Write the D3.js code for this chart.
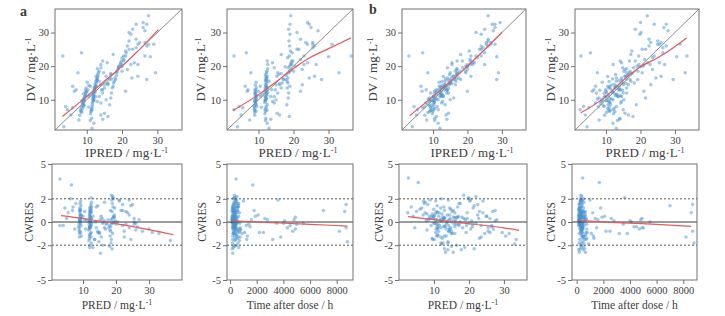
<!DOCTYPE html>
<html>
<head>
<meta charset="utf-8">
<script src="https://cdn.jsdelivr.net/npm/d3@7"></script>
<style>
  body { margin: 0; background: #fff; }
  svg { display: block; }
  text { font-family: "Liberation Serif", "Times New Roman", serif; fill: #3c3c3c; }
</style>
</head>
<body>
<div id="chart"></div>
<script>
// observations (same order in every array)
var time = [
  210,350,420,180,520,300,260,640,150,380, 460,230,330,560,190,410,280,720,170,500,
  240,390,310,600,220,450,160,350,270,680, 200,320,430,260,540,170,390,290,480,210,
  350,620,150,440,230,330,510,190,400,280, 750,170,360,250,470,220,580,300,180,420,
  340,660,240,380,200,530,310,450,160,270, 700,350,210,490,260,230,380,300,520,190,
  410,270,640,350,210,470,330,250,560,180, 430,290,600,220,370,310,490,160,400,260,
  530,340,200,450,280,1200,450,1700,280,350, 420,310,260,190,550,370,240,1600,2200,2800,
  3500,4100,4900,5500,8800,8700,7000,8600,8200,8700, 1000,1400,1800,2100,2600,3200,3600,4000,4500,4800,
  5000,600,900,700,1100,800,450,300,520,380, 240,690,330,760,420,210,200,300,180,250,
  410,330,520,270,640,200,350,460,150,590, 280,390,230,760,180,300,1300,1500,1900,1250,
  3800,4300,4700,2500,4900
];
var dv = [
  9.5,11.0,7.5,12.8,6.8,10.2,8.3,13.5,11.8,9.0, 15.2,6.2,10.8,12.2,7.9,9.8,11.4,8.8,13.0,7.0,
  10.5,14.3,9.3,5.4,12.0,8.5,10.0,11.2,9.7,6.5, 12.5,15.8,9.2,18.5,6.5,13.8,11.0,16.9,4.5,14.6,
  10.2,19.2,12.0,8.0,15.0,17.5,7.0,13.2,11.6,20.5, 9.6,14.2,5.8,16.2,12.8,10.8,18.0,8.6,13.5,15.4,
  11.2,3.8,12.2,17.0,9.8,14.0,21.5,7.5,12.9,10.4, 15.9,6.9,13.6,11.9,16.5,19.5,23.0,15.5,29.5,12.0,
  20.5,16.5,26.0,8.5,21.5,18.0,31.0,14.0,22.5,19.0, 16.0,24.5,10.5,20.0,35.0,17.2,27.5,5.0,21.0,15.0,
  19.8,32.5,13.5,24.0,18.5,7.0,23.0,24.0,2.0,5.5, 7.6,8.0,14.0,13.0,18.0,4.0,12.5,11.0,9.0,17.0,
  14.5,17.8,15.0,16.2,13.0,28.0,25.0,23.0,19.0,21.0, 25.0,20.5,22.0,26.5,27.0,16.5,33.0,26.0,12.5,30.5,
  26.5,22.8,18.0,23.0,26.5,17.0,32.5,31.5,27.0,30.0, 25.5,16.0,20.5,14.5,23.5,19.5,6.0,5.5,3.0,1.5,
  4.2,10.0,21.0,18.0,12.5,16.0,14.8,17.5,13.0,20.0, 21.5,18.5,9.5,7.8,11.5,14.0,8.0,10.0,15.5,11.0,
  12.0,13.5,11.0,14.5,20.5
];
// model a
var ipredA = [
  9.2,9.4,8.8,9.6,8.5,9.0,9.3,9.8,9.1,8.7, 10.1,8.6,9.5,9.9,8.4,9.2,9.7,8.9,10.3,8.2,
  9.4,10.6,9.0,8.0,9.6,9.1,9.3,9.8,8.6,8.3, 12.0,12.8,11.6,13.5,11.2,12.3,11.9,12.6,11.4,12.4,
  12.1,13.0,11.8,11.5,12.7,13.1,11.3,12.2,11.7,14.0, 12.0,12.5,11.1,12.9,12.3,11.8,13.3,11.6,12.1,12.6,
  12.0,11.0,12.4,13.2,11.9,12.7,14.5,11.5,12.2,11.7, 12.9,11.4,12.3,12.0,13.0,19.0,20.5,17.8,22.5,17.0,
  19.5,18.0,21.5,16.5,19.8,18.5,23.0,17.5,20.0,18.8, 18.2,21.0,16.8,19.2,27.5,18.4,22.0,16.0,19.6,17.6,
  19.0,24.0,17.2,21.2,18.6,4.5,3.2,8.5,3.5,5.5, 6.0,4.0,6.0,7.0,7.5,7.8,6.5,10.5,14.0,15.5,
  15.0,16.8,16.0,17.0,14.5,24.0,23.0,21.0,21.5,23.5, 22.0,22.5,20.5,24.5,26.5,22.8,26.0,27.0,21.0,26.5,
  27.5,28.0,29.5,26.5,29.0,24.5,27.0,26.0,25.0,22.0, 24.0,27.0,24.5,16.0,17.5,14.0,15.0,14.0,12.0,11.5,
  14.5,15.5,15.8,14.8,10.0,16.5,15.8,16.8,14.2,20.0, 20.5,20.0,13.0,10.5,10.8,11.0,9.0,11.8,13.5,12.5,
  14.5,15.0,13.5,14.0,20.0
];
var predA = [
  9.0,9.1,8.9,9.2,9.0,9.3,8.8,9.4,9.0,9.1, 9.3,8.9,9.2,9.0,8.7,9.4,9.1,9.2,9.0,8.8,
  9.3,9.1,9.0,8.9,9.2,9.4,9.1,9.5,8.9,9.3, 12.1,12.3,11.8,12.4,12.0,12.2,11.9,12.5,12.1,12.0,
  12.3,12.6,11.7,12.2,12.4,12.0,11.9,12.5,12.3,12.6, 12.0,12.1,11.8,12.4,12.2,12.0,12.3,12.5,11.9,12.1,
  12.4,12.0,12.6,12.2,11.8,12.3,12.5,12.1,11.9,12.2, 12.0,12.4,12.5,12.3,12.1,18.5,18.8,18.2,19.0,18.6,
  19.2,18.4,18.9,18.1,19.5,18.7,18.6,19.0,18.3,19.4, 17.8,19.1,18.5,18.9,19.2,18.0,18.7,18.8,19.3,18.4,
  17.6,19.0,18.2,19.6,18.9,3.0,3.0,6.5,4.0,5.0, 5.5,4.5,6.2,7.0,7.8,7.5,6.8,10.5,14.5,15.2,
  16.0,16.5,16.8,17.2,14.8,22.0,21.5,23.0,22.5,24.0, 21.0,23.0,22.0,24.0,25.5,24.5,24.0,26.0,22.0,27.0,
  25.5,30.0,33.0,36.5,31.0,26.0,24.5,25.0,23.5,21.0, 25.5,28.0,26.5,22.5,16.5,14.5,15.3,16.0,12.5,13.0,
  13.5,15.0,14.0,15.5,10.0,17.0,16.0,15.8,13.8,20.5, 19.8,20.0,14.0,10.8,11.0,10.5,9.5,12.0,13.0,13.5,
  15.5,16.5,14.5,15.0,19.5
];
var cwresA = [
  0.2,0.6,-0.5,1.1,-0.8,0.3,-0.2,1.4,0.9,0.0, 1.8,-1.0,0.5,1.0,-0.4,0.1,0.7,-0.1,1.2,-0.7,
  0.4,1.6,0.1,-1.3,1.0,-0.3,0.3,0.6,0.2,-0.9, 0.1,0.9,-0.7,1.5,-1.4,0.4,-0.2,1.1,-2.0,0.6,
  -0.5,1.3,0.0,-1.0,0.8,1.2,-1.2,0.2,-0.3,1.7, -0.5,0.5,-1.6,0.9,0.1,-0.4,1.3,-0.9,0.3,0.7,
  -0.3,-2.2,-0.1,1.0,-0.6,0.4,2.1,-1.1,0.2,-0.4, 0.8,-1.3,0.3,-0.1,1.0,0.2,0.9,-0.7,2.2,-1.5,
  0.4,-0.4,1.6,-2.1,0.6,-0.1,2.3,-1.0,1.0,0.0, -0.5,1.3,-1.8,0.3,2.0,-0.3,1.9,-2.3,0.5,-0.8,
  0.2,2.1,-1.2,1.2,-0.1,-0.3,3.7,3.2,-0.3,0.3, 0.8,1.2,2.0,1.3,1.6,-0.6,1.0,0.2,-0.9,0.2,
  -0.1,0.1,-0.6,-0.1,-1.7,1.5,1.0,0.9,-0.8,-0.5, 1.8,-0.2,1.0,0.6,0.3,-1.5,1.9,-0.1,-0.3,0.2,
  -0.2,-0.6,-1.0,-1.6,-0.9,-0.7,1.4,1.5,0.8,1.9, 0.0,-0.8,-0.4,-1.3,1.7,1.4,-2.7,-2.0,-1.8,-2.2,
  -1.5,-1.0,1.3,0.5,0.5,-0.2,0.0,0.3,0.0,0.0, 0.1,-0.2,-0.5,-0.6,0.2,0.9,-1.2,-0.4,0.5,-1.5,
  -1.3,-0.5,-0.8,-0.9,0.4
];
// model b
var ipredB = [
  9.0,10.2,9.3,10.9,9.4,8.6,8.9,12.3,12.1,7.8, 11.8,8.5,10.0,12.0,7.6,10.1,12.5,8.4,11.3,10.2,
  9.0,12.6,10.3,7.6,9.3,9.7,9.2,12.2,9.2,9.0, 12.4,14.5,10.4,16.5,10.0,12.2,12.6,13.0,10.5,13.4,
  11.0,17.0,11.0,11.2,14.6,14.8,11.5,12.0,12.6,15.5, 10.4,14.0,9.8,13.6,14.0,10.1,17.2,10.3,13.0,12.6,
  13.0,10.5,12.0,16.0,9.9,13.3,17.0,10.5,13.3,10.8, 15.0,9.4,12.9,10.4,14.2,18.6,21.0,16.6,24.0,14.5,
  20.8,15.3,24.0,13.5,18.5,19.5,25.0,13.4,23.0,16.8, 18.0,20.5,16.0,19.5,26.0,16.7,26.0,11.0,21.5,15.0,
  19.9,28.0,13.6,25.0,17.8,5.5,3.0,7.0,4.0,5.2, 7.0,4.5,6.5,8.0,8.5,8.2,6.8,10.2,12.5,15.8,
  14.8,17.0,15.2,16.8,14.2,26.0,24.0,22.5,20.0,22.0, 23.5,21.5,20.8,25.5,26.8,17.5,29.5,26.0,20.0,27.5,
  26.8,28.5,29.0,24.0,28.0,21.0,27.2,28.0,25.5,22.5, 24.5,28.5,25.0,16.5,18.0,14.2,14.5,13.8,11.5,12.0,
  14.0,15.0,15.5,15.0,10.5,16.2,15.5,16.9,14.0,20.0, 20.8,19.5,12.8,10.0,11.0,11.8,9.2,11.5,13.5,12.0,
  14.0,14.5,13.0,13.5,20.0
];
var predB = [
  8.6,9.8,10.5,8.2,11.2,7.5,9.2,10.8,12.5,6.9, 8.9,10.1,9.5,11.8,7.8,10.2,13.1,8.4,9.9,12.0,
  8.0,11.5,10.9,9.6,7.2,10.6,8.8,12.8,9.0,11.0, 12.0,13.8,11.2,15.2,12.6,11.0,13.5,10.5,14.0,12.3,
  11.6,16.0,10.2,13.0,14.5,12.8,15.0,11.4,13.2,12.1, 10.8,13.9,12.2,11.9,14.8,9.8,16.8,11.3,12.7,10.9,
  14.2,13.3,11.8,15.6,10.0,12.9,14.1,12.4,13.6,11.1, 14.6,10.7,12.5,9.5,13.0,18.0,19.5,17.2,19.8,16.0,
  21.0,14.5,22.5,18.8,16.8,20.5,18.5,13.0,23.5,15.5, 19.2,17.5,21.5,19.0,22.0,16.2,25.0,17.8,22.0,15.0,
  20.0,24.0,13.8,26.5,17.0,2.5,2.7,5.5,4.5,4.0, 5.0,3.5,7.0,6.5,7.5,8.0,6.0,10.5,14.3,15.5,
  16.5,17.5,18.2,16.0,14.0,22.5,21.5,24.0,23.5,25.5, 20.5,22.8,21.2,25.0,26.0,24.5,20.0,27.5,21.0,28.0,
  25.5,30.5,33.0,33.5,31.5,26.0,27.5,26.8,23.0,20.2, 26.5,29.5,27.0,23.0,17.2,14.8,15.5,16.5,12.0,13.0,
  14.0,15.2,14.5,16.0,10.0,17.0,15.8,16.5,14.2,20.8, 18.5,19.3,14.5,11.0,10.8,10.5,9.5,12.0,13.0,13.5,
  15.0,16.0,14.5,15.0,19.5
];
var cwresB = [
  0.3,0.4,-0.9,1.5,-1.2,0.8,-0.3,0.9,0.1,0.6, 1.9,-1.5,0.5,0.2,0.1,-0.1,-0.3,0.2,1.1,-1.3,
  0.7,0.8,-0.4,-1.5,1.6,-0.6,0.5,-0.4,0.3,-1.1, 0.2,0.6,-0.5,0.9,-1.8,0.8,-0.6,1.8,-2.4,0.7,
  -0.3,0.8,0.6,-1.2,0.2,1.3,-2.1,0.5,-0.4,2.0, -0.2,0.1,-1.9,1.2,-0.5,0.3,0.4,-0.8,0.3,1.4,
  -0.8,-2.6,0.1,0.4,-0.1,0.3,1.9,-1.4,-0.1,-0.2, 0.3,-1.2,0.4,0.7,1.0,0.4,0.8,-0.3,2.0,-1.0,
  -0.2,0.6,0.6,-2.2,1.3,-0.6,2.3,0.3,-0.3,1.0, -0.9,1.6,-2.3,0.2,2.2,0.2,0.5,-2.4,-0.1,0.0,
  -0.1,1.8,0.0,-0.4,0.5,0.8,3.8,3.4,-0.5,0.5, 0.9,1.3,1.8,1.2,1.7,-0.7,1.1,0.2,-0.8,0.1,
  -0.2,0.0,-0.5,0.0,-1.8,1.5,1.4,0.8,-1.3,-0.8, 1.9,0.3,1.2,0.5,0.3,-1.0,2.1,0.1,-0.4,0.2,
  -0.5,-1.2,-1.9,-1.5,-1.0,-0.9,1.0,0.9,0.9,1.8, -0.3,-0.9,-0.6,-1.4,1.6,1.1,-2.6,-2.0,-1.8,-2.3,
  -1.7,-1.0,1.2,0.4,0.5,-0.2,-0.2,0.4,-0.3,0.1, 0.3,-0.3,-0.6,-0.6,0.2,0.8,-1.4,-0.5,0.4,-1.2,
  -1.0,-0.4,-0.6,-0.8,0.3
];

// smooth (loess) lines
var smoothA1x = [3.1, 10, 15, 20, 25, 30.3],      smoothA1y = [5.0, 11.0, 15.5, 20.0, 25.0, 30.9];
var smoothA2x = [2.7, 10, 15, 20, 25, 30, 36.4],  smoothA2y = [6.8, 11.5, 15.3, 19.3, 22.7, 25.2, 28.4];
var smoothA3x = [3.3, 10, 20, 30, 37.4],          smoothA3y = [0.55, 0.3, -0.15, -0.65, -1.1];
var smoothA4x = [150, 1000, 3000, 6000, 8800],    smoothA4y = [0.1, 0.05, -0.05, -0.2, -0.35];
var smoothB1x = [3.2, 10, 20, 30],                smoothB1y = [5.2, 11.0, 20.0, 30.0];
var smoothB2x = [2.7, 10, 15, 20, 25, 30, 33.4],  smoothB2y = [6.1, 11.0, 15.8, 19.8, 22.5, 25.8, 28.4];
var smoothB3x = [2.6, 10, 20, 30, 34.3],          smoothB3y = [0.47, 0.2, -0.15, -0.5, -0.72];
var smoothB4x = [150, 1000, 3000, 6000, 8600],    smoothB4y = [0.15, 0.08, -0.05, -0.2, -0.37];

var concTicks = [10, 20, 30];
var cwresTicks = [-5, -2, 0, 2, 5];
var timeTicks = [0, 2000, 4000, 6000, 8000];

var n = dv.length;
[time, ipredA, predA, cwresA, ipredB, predB, cwresB].forEach(function(a) {
    if (a.length !== n) console.error("length mismatch", a.length, n);
});

var svg = d3.select("#chart").append("svg")
    .attr("width", 725)
    .attr("height", 316);

var panelCount = 0;

function drawPanel(p) {
    var id = "clip" + (panelCount++);
    var x = d3.scaleLinear().domain(p.xDomain).range([p.left, p.right]);
    var y = d3.scaleLinear().domain(p.yDomain).range([p.bottom, p.top]);
    var g = svg.append("g");

    g.append("clipPath").attr("id", id)
        .append("rect")
        .attr("x", p.left).attr("y", p.top)
        .attr("width", p.right - p.left).attr("height", p.bottom - p.top);

    var plot = g.append("g").attr("clip-path", "url(#" + id + ")");

    // points
    plot.selectAll("circle")
        .data(d3.range(p.xs.length))
        .enter()
        .append("circle")
        .attr("cx", function(i) { return x(p.xs[i]); })
        .attr("cy", function(i) { return y(p.ys[i]); })
        .attr("r", 1.75)
        .attr("fill", "#4a93d2")
        .attr("fill-opacity", 0.5);

    if (p.identity) {
        var lo = Math.min(p.xDomain[0], p.yDomain[0]), hi = Math.max(p.xDomain[1], p.yDomain[1]);
        plot.append("line")
            .attr("x1", x(lo)).attr("y1", y(lo))
            .attr("x2", x(hi)).attr("y2", y(hi))
            .attr("stroke", "#8a8a8a").attr("stroke-width", 1);
    }
    if (p.residual) {
        [-2, 2].forEach(function(v) {
            plot.append("line")
                .attr("x1", p.left).attr("x2", p.right)
                .attr("y1", y(v)).attr("y2", y(v))
                .attr("stroke", "#555").attr("stroke-width", 1)
                .attr("stroke-dasharray", "2,2");
        });
        plot.append("line")
            .attr("x1", p.left).attr("x2", p.right)
            .attr("y1", y(0)).attr("y2", y(0))
            .attr("stroke", "#3a3a3a").attr("stroke-width", 1);
    }

    // smooth
    var line = d3.line()
        .x(function(i) { return x(p.sx[i]); })
        .y(function(i) { return y(p.sy[i]); })
        .curve(d3.curveMonotoneX);
    plot.append("path")
        .attr("d", line(d3.range(p.sx.length)))
        .attr("fill", "none")
        .attr("stroke", "#e35a5a")
        .attr("stroke-width", 1.2);

    // frame
    g.append("rect")
        .attr("x", p.left).attr("y", p.top)
        .attr("width", p.right - p.left).attr("height", p.bottom - p.top)
        .attr("fill", "none").attr("stroke", "#707070").attr("stroke-width", 1);

    // axes
    var xa = g.append("g")
        .attr("transform", "translate(0," + p.bottom + ")")
        .call(d3.axisBottom(x).tickValues(p.xTicks).tickSize(4).tickSizeOuter(0).tickPadding(3)
            .tickFormat(d3.format("d")));
    var ya = g.append("g")
        .attr("transform", "translate(" + p.left + ",0)")
        .call(d3.axisLeft(y).tickValues(p.yTicks).tickSize(4).tickSizeOuter(0).tickPadding(2)
            .tickFormat(function(d) { return d < 0 ? "-" + (-d) : d; }));
    [xa, ya].forEach(function(a) {
        a.select(".domain").remove();
        a.selectAll(".tick line").attr("stroke", "#707070");
        a.selectAll("text")
            .attr("fill", "#444")
            .style("font-family", '"Liberation Serif", serif')
            .style("font-size", "10.5px");
    });

    // axis titles
    var xt = g.append("text")
        .attr("x", (p.left + p.right) / 2 + p.row.titleShift)
        .attr("y", p.xTitleY)
        .attr("text-anchor", "middle")
        .style("font-size", p.row.titleSize + "px")
        .text(p.xTitle);
    if (p.xUnit) {
        xt.append("tspan").attr("dy", -4).style("font-size", "8px").text("-1");
    }
    var yt = g.append("text")
        .attr("transform", "translate(" + p.yTitleX + "," + ((p.top + p.bottom) / 2) + ") rotate(-90)")
        .attr("text-anchor", "middle")
        .style("font-size", p.row.titleSize + "px")
        .text(p.yTitle);
    if (p.yUnit) {
        yt.append("tspan").attr("dy", -4).style("font-size", "8px").text("-1");
    }
}

var topRow = { top: 9, bottom: 130, xTitleY: 157, titleSize: 13, titleShift: 8 };
var botRow = { top: 164, bottom: 280, xTitleY: 309, titleSize: 11.5, titleShift: 0 };

var panels = [
    // a
    { row: topRow, left: 55, right: 182, xs: ipredA, ys: dv, xDomain: [1, 37], yDomain: [1, 37],
      sx: smoothA1x, sy: smoothA1y, identity: true, xTicks: concTicks, yTicks: concTicks,
      xTitle: "IPRED / mg·L", xUnit: true, yTitle: "DV / mg·L", yUnit: true, yTitleX: 35 },
    { row: topRow, left: 227, right: 353, xs: predA, ys: dv, xDomain: [1, 37], yDomain: [1, 37],
      sx: smoothA2x, sy: smoothA2y, identity: true, xTicks: concTicks, yTicks: concTicks,
      xTitle: "PRED / mg·L", xUnit: true, yTitle: "DV / mg·L", yUnit: true, yTitleX: 205 },
    { row: botRow, left: 52, right: 182, xs: predA, ys: cwresA, xDomain: [0.6, 40], yDomain: [-5, 5],
      sx: smoothA3x, sy: smoothA3y, residual: true, xTicks: concTicks, yTicks: cwresTicks,
      xTitle: "PRED / mg·L", xUnit: true, yTitle: "CWRES", yTitleX: 33 },
    { row: botRow, left: 227, right: 353, xs: time, ys: cwresA, xDomain: [-230, 9220], yDomain: [-5, 5],
      sx: smoothA4x, sy: smoothA4y, residual: true, xTicks: timeTicks, yTicks: cwresTicks,
      xTitle: "Time after dose / h", yTitle: "CWRES", yTitleX: 206 },
    // b
    { row: topRow, left: 402, right: 526, xs: ipredB, ys: dv, xDomain: [1, 37], yDomain: [1, 37],
      sx: smoothB1x, sy: smoothB1y, identity: true, xTicks: concTicks, yTicks: concTicks,
      xTitle: "IPRED / mg·L", xUnit: true, yTitle: "DV / mg·L", yUnit: true, yTitleX: 377 },
    { row: topRow, left: 575, right: 699, xs: predB, ys: dv, xDomain: [1, 37], yDomain: [1, 37],
      sx: smoothB2x, sy: smoothB2y, identity: true, xTicks: concTicks, yTicks: concTicks,
      xTitle: "PRED / mg·L", xUnit: true, yTitle: "DV / mg·L", yUnit: true, yTitleX: 555 },
    { row: botRow, left: 399, right: 527, xs: predB, ys: cwresB, xDomain: [0, 36.6], yDomain: [-5, 5],
      sx: smoothB3x, sy: smoothB3y, residual: true, xTicks: concTicks, yTicks: cwresTicks,
      xTitle: "PRED / mg·L", xUnit: true, yTitle: "CWRES", yTitleX: 383 },
    { row: botRow, left: 572, right: 697, xs: time, ys: cwresB, xDomain: [-350, 9030], yDomain: [-5, 5],
      sx: smoothB4x, sy: smoothB4y, residual: true, xTicks: timeTicks, yTicks: cwresTicks,
      xTitle: "Time after dose / h", yTitle: "CWRES", yTitleX: 555 }
];

panels.forEach(function(p) {
    p.top = p.row.top;
    p.bottom = p.row.bottom;
    p.xTitleY = p.row.xTitleY;
    drawPanel(p);
});

// panel letters
svg.append("text").attr("x", 20).attr("y", 16)
    .style("font-size", "14px").style("font-weight", "bold").text("a");
svg.append("text").attr("x", 369).attr("y", 14)
    .style("font-size", "14px").style("font-weight", "bold").text("b");
</script>
</body>
</html>
